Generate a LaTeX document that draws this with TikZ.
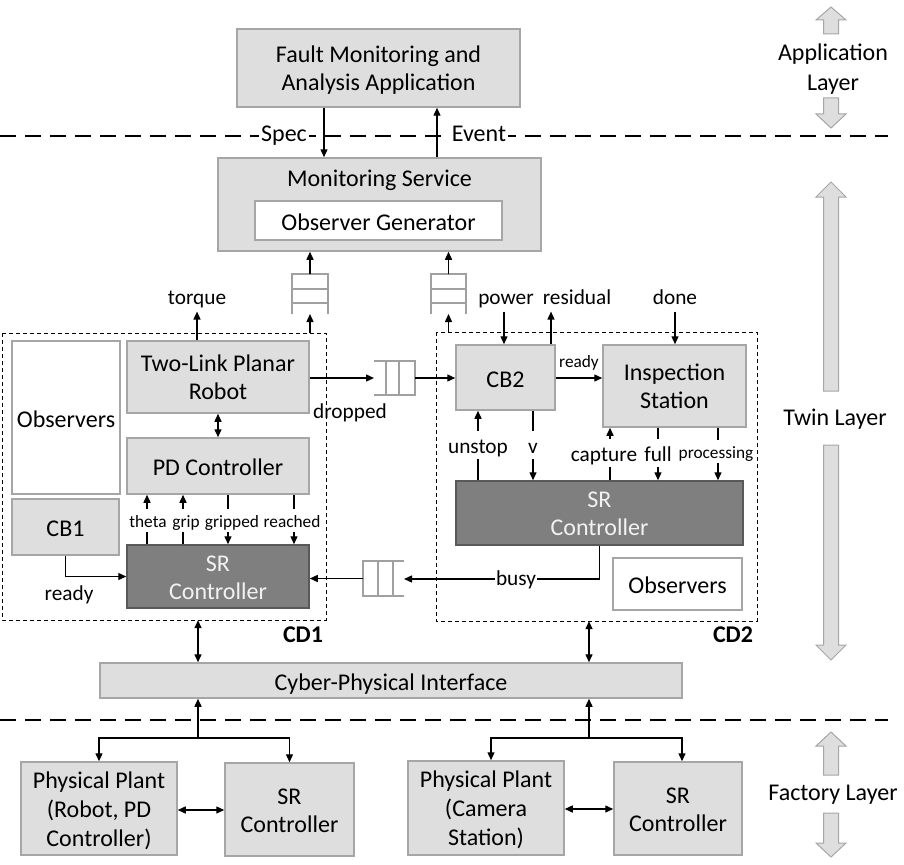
\documentclass[tikz,border=0pt]{standalone}
\usepackage{fontspec}
\setmainfont{Carlito}
\usetikzlibrary{arrows.meta,calc}
\definecolor{boxfill}{HTML}{DEDEDE}
\definecolor{boxline}{HTML}{A6A6A6}
\definecolor{srfill}{HTML}{7F7F7F}
\definecolor{srline}{HTML}{595959}
\definecolor{queueline}{HTML}{A0A0A0}
\definecolor{srtext}{HTML}{F2F2F2}
\newcommand{\firstln}{\rule{0pt}{23pt}}
\newcommand{\blkarrow}[4]{\draw[larr] (#1,#2) -- ({#1+15},#3) -- ({#1+7.5},#3) -- ({#1+7.5},#4) -- ({#1-7.5},#4) -- ({#1-7.5},#3) -- ({#1-15},#3) -- cycle;}
\begin{document}
\begin{tikzpicture}[x=1pt,y=-1pt,
  ts/.style={execute at begin node={\rule{0pt}{1.05em}}, execute at end node={\rule[-0.25em]{0pt}{0.25em}}},
  box/.style={draw=boxline, fill=boxfill, line width=1.5pt, inner sep=0pt, align=center, font=\fontsize{24}{28}\selectfont, ts},
  wbox/.style={box, fill=white},
  srbox/.style={box, fill=srfill, draw=srline, text=srtext},
  threeln/.style={font=\fontsize{24}{29}\selectfont},
  cdbox/.style={draw=black, line width=1pt, dash pattern=on 4pt off 3pt},
  layerline/.style={line width=2.5pt, dash pattern=on 16pt off 9pt},
  arr/.style={line width=1.4pt, -{Triangle[length=8pt,width=7pt]}},
  darr/.style={line width=1.4pt, {Triangle[length=8pt,width=7pt]}-{Triangle[length=8pt,width=7pt]}},
  mlbl/.style={font=\fontsize{24}{28}\selectfont, fill=white, inner xsep=2pt, inner ysep=0pt, ts},
  lbl/.style={font=\fontsize{21.3}{24}\selectfont, fill=white, inner xsep=1.5pt, inner ysep=0pt, ts},
  slbl/.style={font=\fontsize{17.3}{20}\selectfont, fill=white, inner xsep=1.5pt, inner ysep=0pt, ts},
  qnode/.style={inner sep=0pt, outer sep=0pt},
  qline/.style={draw=queueline, line width=2.2pt},
  larr/.style={fill=boxfill, draw=boxline, line width=1pt},
  layertxt/.style={font=\fontsize{24}{30}\selectfont, align=center, inner sep=0pt, ts}
]
\useasboundingbox (0,0) rectangle (904,864);

% layer separators
\draw[layerline] (0,136) -- (888,136);
\draw[layerline] (0,720) -- (888,720);

% layer labels and arrows
\blkarrow{831}{7}{20}{34}
\blkarrow{831}{128}{114}{98}
\node[layertxt] (applayer) at (833,67.5) {\firstln Application\\Layer};
\blkarrow{831}{182}{197}{391}
\blkarrow{831}{660}{645}{445}
\node[layertxt] (twinlayer) at (835,416) {Twin Layer};
\blkarrow{831}{732}{746}{775}
\blkarrow{831}{857}{843}{813}
\node[layertxt] (factlayer) at (833,790.4) {Factory Layer};

% application layer
\node[box, minimum width=283pt, minimum height=78pt] (fault) at (378.5,68) {\firstln Fault Monitoring and\\Analysis Application};

% monitoring service
\node[box, minimum width=323pt, minimum height=93pt] (mon) at (379.5,204.5) {};
\node[font=\fontsize{24}{28}\selectfont, inner sep=0pt, ts] (monlbl) at (379.5,176.5) {Monitoring Service};
\node[wbox, minimum width=247pt, minimum height=39pt] (obsgen) at (378.5,220.5) {Observer Generator};

\coordinate (xspec) at (324,0);
\coordinate (xevent) at (437,0);
\draw[arr] (fault.south -| xspec) -- (mon.north -| xspec);
\draw[arr] (mon.north -| xevent) -- (fault.south -| xevent);
\node[mlbl] (spec) at (284,131.4) {Spec};
\node[mlbl] (event) at (479,131.4) {Event};

% CD1
\draw[cdbox] (2,333) rectangle (326,620);
\node[inner sep=0pt, minimum width=324pt, minimum height=287pt] (cd1) at (164,476.5) {};
\node[wbox, minimum width=108pt, minimum height=153pt] (obs1) at (66,417.5) {Observers};
\node[box, minimum width=182pt, minimum height=72pt] (robot) at (218,377) {\firstln Two-Link Planar\\Robot};
\node[box, minimum width=182pt, minimum height=56pt] (pd) at (218,466) {PD Controller};
\node[box, minimum width=107pt, minimum height=56pt] (cb1) at (65.5,527) {CB1};
\node[srbox, minimum width=182pt, minimum height=63pt] (sr1) at (218,576.5) {\firstln SR\\Controller};
\node[font=\bfseries\fontsize{24}{28}\selectfont, inner sep=0pt, ts] (cd1lbl) at (303,632.4) {CD1};

% CD2
\draw[cdbox] (436,332) rectangle (757,621);
\node[inner sep=0pt, minimum width=321pt, minimum height=289pt] (cd2) at (596.5,476.5) {};
\node[box, minimum width=99pt, minimum height=65pt] (cb2) at (505.5,377.5) {CB2};
\node[box, minimum width=143pt, minimum height=82pt] (insp) at (674.5,386) {\firstln Inspection\\Station};
\node[srbox, minimum width=287pt, minimum height=64pt] (sr2) at (599.5,513) {\firstln SR\\Controller};
\node[wbox, minimum width=129pt, minimum height=52pt] (obs2) at (677.5,584) {Observers};
\node[font=\bfseries\fontsize{24}{28}\selectfont, inner sep=0pt, ts] (cd2lbl) at (733,632.4) {CD2};

% queues to monitoring service (open bottom)
\node[qnode, minimum width=36pt, minimum height=40pt] (q1) at (310,294) {};
\node[qnode, minimum width=35pt, minimum height=40pt] (q2) at (448.5,294) {};
\foreach \q in {q1,q2}{
  \draw[qline] (\q.south west) -- (\q.north west) -- (\q.north east) -- (\q.south east);
  \draw[qline] ([yshift=-15pt]\q.north west) -- ([yshift=-15pt]\q.north east);
  \draw[qline] ([yshift=-29pt]\q.north west) -- ([yshift=-29pt]\q.north east);
}
\draw[arr] (cd1.north -| q1) -- (q1.south);
\draw[arr] (q1.north) -- (mon.south -| q1);
\draw[arr] (cd2.north -| q2) -- (q2.south);
\draw[arr] (q2.north) -- (mon.south -| q2);

% dropped queue (open left)
\node[qnode, minimum width=41pt, minimum height=34pt] (q3) at (394.5,378) {};
\draw[qline] (q3.north west) -- (q3.north east) -- (q3.south east) -- (q3.south west);
\draw[qline] ([xshift=-16pt]q3.north east) -- ([xshift=-16pt]q3.south east);
\draw[qline] ([xshift=-29pt]q3.north east) -- ([xshift=-29pt]q3.south east);

% busy queue (open right)
\node[qnode, minimum width=41pt, minimum height=35pt] (q4) at (383.5,578.5) {};
\draw[qline] (q4.north east) -- (q4.north west) -- (q4.south west) -- (q4.south east);
\draw[qline] ([xshift=15pt]q4.north west) -- ([xshift=15pt]q4.south west);
\draw[qline] ([xshift=30pt]q4.north west) -- ([xshift=30pt]q4.south west);

% CD1 connections
\node[lbl, fill=none] (torque) at (197,295.5) {torque};
\draw[arr] (robot.north -| torque) -- ([yshift=-2pt]torque.south);
\draw[arr] (robot.east |- q3) -- (q3.west);
\draw[arr] (q3.east) -- (cb2.west |- q3);
\node[lbl, fill=none] (dropped) at (350,409.5) {dropped};
\draw[darr] (robot.south) -- (pd.north);

\coordinate (xtheta) at (147,0);
\coordinate (xgrip) at (183,0);
\coordinate (xgripped) at (228,0);
\coordinate (xreached) at (294,0);
\draw[arr] (sr1.north -| xtheta) -- (pd.south -| xtheta);
\draw[arr] (sr1.north -| xgrip) -- (pd.south -| xgrip);
\draw[arr] (pd.south -| xgripped) -- (sr1.north -| xgripped);
\draw[arr] (pd.south -| xreached) -- (sr1.north -| xreached);
\node[slbl] (theta) at (148,520.4) {theta};
\node[slbl] (grip) at (186,520.4) {grip};
\node[slbl] (gripped) at (232,520.4) {gripped};
\node[slbl] (reached) at (292,520.4) {reached};

\draw[arr] (cb1.south) |- (sr1.west);
\node[lbl, fill=none] (ready1) at (69,592) {ready};

% CD2 connections
\node[lbl, fill=none] (power) at (506,295.5) {power};
\node[lbl, fill=none] (residual) at (577,295.5) {residual};
\node[lbl, fill=none] (done) at (675,295.5) {done};
\coordinate (xpower) at (504,0);
\coordinate (xresidual) at (551,0);
\draw[arr] ([yshift=-2pt]power.south -| xpower) -- (cb2.north -| xpower);
\draw[arr] (cb2.north -| xresidual) -- ([yshift=-2pt]residual.south -| xresidual);
\draw[arr] ([yshift=-2pt]done.south) -- (insp.north -| done);

\draw[arr] (cb2.east |- 0,378) -- (insp.west |- 0,378);
\node[slbl, fill=none] (ready2) at (579,360.4) {ready};

\coordinate (xunstop) at (478,0);
\coordinate (xv) at (533,0);
\coordinate (xcapture) at (610,0);
\coordinate (xfull) at (658,0);
\coordinate (xproc) at (718,0);
\draw[arr] (sr2.north -| xunstop) -- (cb2.south -| xunstop);
\draw[arr] (cb2.south -| xv) -- (sr2.north -| xv);
\draw[arr] (sr2.north -| xcapture) -- (insp.south -| xcapture);
\draw[arr] (insp.south -| xfull) -- (sr2.north -| xfull);
\draw[arr] (insp.south -| xproc) -- (sr2.north -| xproc);
\node[lbl] (unstop) at (478,444.8) {unstop};
\node[lbl] (vlbl) at (533,444.8) {v};
\node[lbl] (capture) at (604,453.2) {capture};
\node[lbl] (full) at (658,453.2) {full};
\node[slbl] (processing) at (716,451.4) {processing};

\coordinate (busyc) at (599.5,579);
\draw[arr] (sr2.south) -- (busyc) -- (q4.east |- busyc);
\draw[arr] (q4.west) -- (sr1.east |- q4.west);
\node[lbl] (busy) at (516,576.5) {busy};

% cyber-physical interface
\node[box, minimum width=582pt, minimum height=35pt] (cpi) at (391,680.5) {Cyber-Physical Interface};
\coordinate (xcd1) at (198,0);
\coordinate (xcd2) at (589,0);
\draw[darr] (cd1.south -| xcd1) -- (cpi.north -| xcd1);
\draw[darr] (cd2.south -| xcd2) -- (cpi.north -| xcd2);

% factory layer
\node[box, threeln, minimum width=156pt, minimum height=93pt] (pp1) at (99,808.5) {\firstln Physical Plant\\(Robot, PD\\Controller)};
\node[box, minimum width=129pt, minimum height=93pt] (srf1) at (289.5,809.5) {\firstln SR\\Controller};
\node[box, threeln, minimum width=156pt, minimum height=94pt] (pp2) at (486,808) {\firstln Physical Plant\\(Camera\\Station)};
\node[box, minimum width=128pt, minimum height=93pt] (srf2) at (678,808.5) {\firstln SR\\Controller};

\coordinate (j1) at (198,738);
\coordinate (j2) at (589,738);
\draw[arr] (j1) -- (cpi.south -| j1);
\draw[arr] (j1) -| (pp1.north);
\draw[arr] (j1) -| (srf1.north);
\draw[arr] (j2) -- (cpi.south -| j2);
\draw[arr] (j2) -| ([xshift=5pt]pp2.north);
\draw[arr] (j2) -| ([xshift=4pt]srf2.north);
\draw[darr] (pp1.east |- 0,810) -- (srf1.west |- 0,810);
\draw[darr] (pp2.east |- 0,809) -- (srf2.west |- 0,809);
\end{tikzpicture}
\end{document}
